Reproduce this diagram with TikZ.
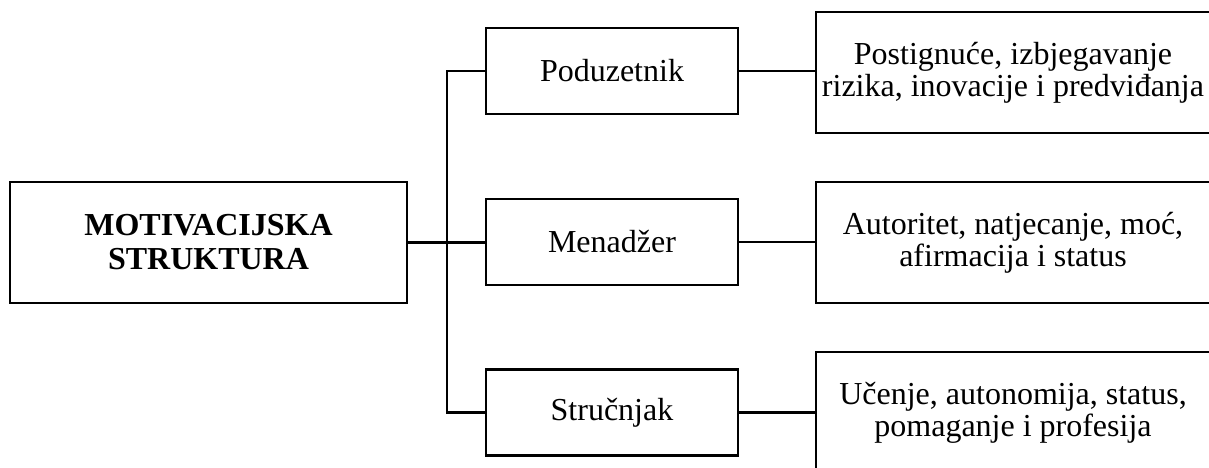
\documentclass[tikz,border=0pt]{standalone}
\usepackage{fontspec}
\setmainfont{Liberation Serif}
\begin{document}
\begin{tikzpicture}[x=1pt,y=-1pt,
  box/.style={draw=black,line width=2.4pt,inner sep=0pt,align=center,
    font=\fontsize{32}{32}\selectfont},
  mainbox/.style={box,minimum width=397pt,minimum height=121pt,
    font=\fontsize{32}{34}\selectfont\bfseries},
  midbox/.style={box,minimum width=252pt,minimum height=86pt},
  rightbox/.style={box,minimum width=394pt,minimum height=121pt,
    font=\fontsize{32}{32}\selectfont},
  conn/.style={draw=black,line width=2.4pt}]
\useasboundingbox (0,0) rectangle (1209,468);
\node[mainbox] (main) at (208.5,242.5) {MOTIVACIJSKA\\STRUKTURA};
\node[midbox] (pod) at (612,71) {Poduzetnik};
\node[midbox] (men) at (612,242) {Menadžer};
\node[midbox] (str) at (612,412.5) {Stručnjak};
\node[rightbox] (r1) at (1013,72.5) {Postignuće, izbjegavanje\\rizika, inovacije i predviđanja};
\node[rightbox] (r2) at (1013,242.5) {Autoritet, natjecanje, moć,\\afirmacija i status};
\node[rightbox] (r3) at (1013,412.5) {Učenje, autonomija, status,\\pomaganje i profesija};
\coordinate (trunk) at (447,242);
\draw[conn] (main.east) -- (main.east -| men.west);
\draw[conn] (pod.west) -| (trunk) |- (str.west);
\draw[conn] (pod.east) -- (pod.east -| r1.west);
\draw[conn] (men.east) -- (men.east -| r2.west);
\draw[conn] (str.east) -- (str.east -| r3.west);
\end{tikzpicture}
\end{document}
